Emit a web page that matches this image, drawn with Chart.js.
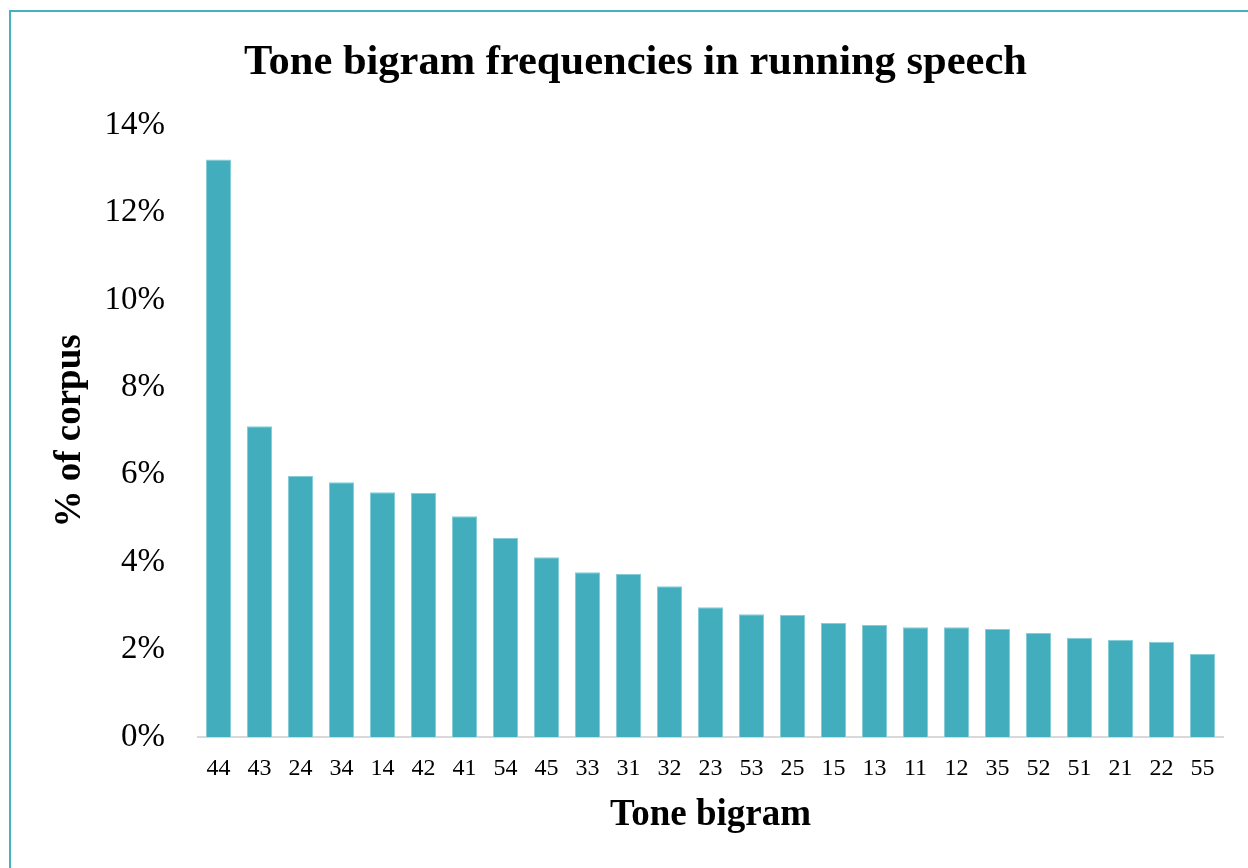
<!DOCTYPE html>
<html>
<head>
<meta charset="utf-8">
<script src="https://cdn.jsdelivr.net/npm/chart.js@4"></script>
<style>
  html, body { margin: 0; padding: 0; background: #ffffff; overflow: hidden; width: 1248px; height: 868px; }
  #frame { position: absolute; left: 9px; top: 10px; width: 1400px; height: 1000px; border-left: 2px solid #45b0bf; border-top: 2px solid #45b0bf; }
  #c { position: absolute; left: 0; top: 0; }
</style>
</head>
<body>
<div id="frame"></div>
<canvas id="c" width="1248" height="868"></canvas>
<script>
const categories = ["44","43","24","34","14","42","41","54","45","33","31","32","23","53","25","15","13","11","12","35","52","51","21","22","55"];
const percentOfCorpus = [13.21,7.11,5.97,5.83,5.60,5.58,5.05,4.55,4.11,3.77,3.73,3.45,2.97,2.81,2.79,2.61,2.56,2.51,2.51,2.47,2.38,2.27,2.22,2.18,1.90];
const yTicks = [0,2,4,6,8,10,12,14];

const FONT = "'Liberation Serif', 'DejaVu Serif', serif";

new Chart(document.getElementById('c'), {
  type: 'bar',
  data: {
    labels: categories,
    datasets: [{
      data: percentOfCorpus,
      backgroundColor: '#42aebd',
      borderColor: '#86cdd7',
      borderWidth: 1,
      barPercentage: 0.61,
      categoryPercentage: 1.0
    }]
  },
  options: {
    responsive: false,
    animation: false,
    layout: { padding: { left: 48, right: 25, top: 0, bottom: 30 } },
    plugins: {
      legend: { display: false },
      tooltip: { enabled: false },
      title: {
        display: true,
        text: 'Tone bigram frequencies in running speech',
        color: '#000000',
        font: { family: FONT, size: 42.5, weight: 'bold', lineHeight: 1.2 },
        padding: { top: 38, bottom: 36 }
      }
    },
    scales: {
      x: {
        grid: { display: false, drawTicks: false },
        border: { display: true, color: '#d9d9d9', width: 2 },
        ticks: { color: '#000000', font: { family: FONT, size: 24 }, padding: 17, maxRotation: 0, autoSkip: false },
        title: {
          display: true, text: 'Tone bigram', color: '#000000',
          font: { family: FONT, size: 37, weight: 'bold', lineHeight: 1.2 },
          padding: { top: 0, bottom: 0 }
        },
        afterFit: (s) => { s.height = 101; }
      },
      y: {
        min: 0, max: 14,
        grid: { display: false, drawTicks: false },
        border: { display: false },
        afterBuildTicks: (s) => { s.ticks = yTicks.map(v => ({ value: v })); },
        ticks: { color: '#000000', font: { family: FONT, size: 33 }, padding: 33, callback: (v) => v + '%' },
        title: {
          display: true, text: '% of corpus', color: '#000000',
          font: { family: FONT, size: 37, weight: 'bold', lineHeight: 1.2 },
          padding: { top: 0, bottom: 0 }
        },
        afterFit: (s) => { s.width = 150; }
      }
    }
  }
});
</script>
</body>
</html>
